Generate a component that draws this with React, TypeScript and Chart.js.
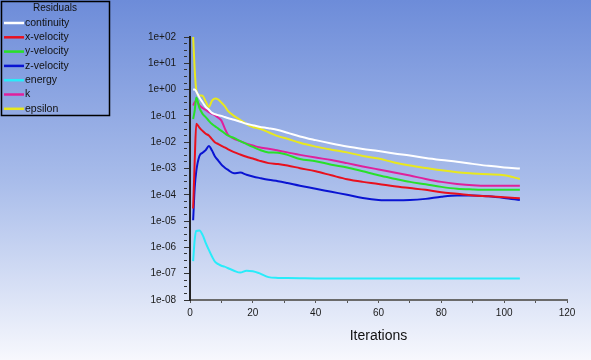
import React, { useEffect, useRef } from "react";
import { Chart, registerables } from "chart.js";

Chart.register(...registerables);

// ---------- data ----------
const iterations = [1, 1.5, 2, 3, 4, 5, 6, 7, 8, 9, 10, 11, 12, 14, 16, 18, 20, 22, 25, 28, 31, 35, 40, 45, 50, 55, 60, 65, 70, 75, 80, 85, 90, 95, 100, 105];

const continuity = [1.0, 1.0, 0.85, 0.5, 0.33, 0.22, 0.17, 0.13, 0.115, 0.107, 0.1, 0.091, 0.083, 0.071, 0.06, 0.05, 0.044, 0.039, 0.034, 0.029, 0.023, 0.0166, 0.012, 0.0089, 0.0068, 0.0055, 0.0046, 0.0037, 0.0031, 0.0025, 0.0021, 0.0018, 0.0015, 0.00126, 0.0011, 0.001];
const xVelocity = [3e-5, 2e-3, 0.05, 0.036, 0.027, 0.021, 0.018, 0.013, 0.0098, 0.0085, 0.0073, 0.0064, 0.0055, 0.0042, 0.0034, 0.0028, 0.0024, 0.002, 0.0016, 0.00148, 0.0013, 0.00103, 0.00078, 0.00055, 0.00039, 0.00031, 0.00026, 0.00021, 0.00018, 0.000155, 0.000125, 0.00011, 0.000095, 0.000088, 0.00008, 0.000074];
const yVelocity = [0.076, 0.16, 0.5, 0.2, 0.12, 0.09, 0.065, 0.049, 0.04, 0.033, 0.027, 0.022, 0.018, 0.0145, 0.011, 0.0085, 0.0066, 0.0052, 0.0041, 0.004, 0.0033, 0.0023, 0.0019, 0.0014, 0.0011, 0.00078, 0.00055, 0.00041, 0.00031, 0.00025, 0.0002, 0.00017, 0.00016, 0.000155, 0.000155, 0.000155];
const zVelocity = [1.07e-5, 1.9e-4, 8e-4, 3e-3, 4e-3, 5e-3, 7.2e-3, 4.8e-3, 2.8e-3, 2e-3, 1.4e-3, 1.1e-3, 9e-4, 6.6e-4, 7e-4, 5.8e-4, 5e-4, 4.4e-4, 3.7e-4, 3.3e-4, 2.8e-4, 2.2e-4, 1.7e-4, 1.3e-4, 1.0e-4, 7.6e-5, 6.4e-5, 6.2e-5, 6.3e-5, 7.0e-5, 8.5e-5, 9.5e-5, 9.5e-5, 8.8e-5, 7.6e-5, 6.3e-5];
const energy = [3e-7, 2e-6, 4.2e-6, 4.4e-6, 3.0e-6, 1.5e-6, 8e-7, 4.5e-7, 2.8e-7, 2.3e-7, 2e-7, 1.85e-7, 1.65e-7, 1.3e-7, 1.1e-7, 1.3e-7, 1.25e-7, 1.05e-7, 7.4e-8, 6.9e-8, 6.8e-8, 6.7e-8, 6.6e-8, 6.6e-8, 6.5e-8, 6.5e-8, 6.5e-8, 6.5e-8, 6.5e-8, 6.5e-8, 6.5e-8, 6.5e-8, 6.5e-8, 6.5e-8, 6.5e-8, 6.5e-8];
const kResidual = [0.25, 0.33, 0.38, 0.25, 0.2, 0.17, 0.14, 0.12, 0.105, 0.085, 0.066, 0.035, 0.02, 0.0135, 0.011, 0.0088, 0.0075, 0.0064, 0.0056, 0.0048, 0.0041, 0.0033, 0.0026, 0.0021, 0.0016, 0.0012, 0.00092, 0.00071, 0.00054, 0.0004, 0.00031, 0.00026, 0.00023, 0.00022, 0.00022, 0.00022];
const epsilon = [100, 5.5, 0.95, 0.6, 0.58, 0.35, 0.22, 0.38, 0.46, 0.42, 0.32, 0.24, 0.16, 0.1, 0.07, 0.049, 0.038, 0.033, 0.024, 0.017, 0.0135, 0.0095, 0.0068, 0.0052, 0.0041, 0.003, 0.0024, 0.0017, 0.0013, 0.00105, 0.00085, 0.00072, 0.00065, 0.0006, 0.00055, 0.0004];

const seriesNames = ["continuity", "x-velocity", "y-velocity", "z-velocity", "energy", "k", "epsilon"];
const seriesValues = [continuity, xVelocity, yVelocity, zVelocity, energy, kResidual, epsilon];
const seriesColors = ["#ffffff", "#e8101e", "#28e028", "#0a14d2", "#28ecfa", "#e0209c", "#e8e81e"];

const legendTitle = "Residuals";
const xTitle = "Iterations";
const xMajorTicks = [0, 20, 40, 60, 80, 100, 120];
const xMajorLabels = ["0", "20", "40", "60", "80", "100", "120"];
const xMinorTicks = [10, 30, 50, 70, 90, 110];
const yMajorTicks = [1e2, 1e1, 1e0, 1e-1, 1e-2, 1e-3, 1e-4, 1e-5, 1e-6, 1e-7, 1e-8];
const yMajorLabels = ["1e+02", "1e+01", "1e+00", "1e-01", "1e-02", "1e-03", "1e-04", "1e-05", "1e-06", "1e-07", "1e-08"];
const yMinorFractions = [0.25, 0.5, 0.75];

const FONT = "'Liberation Sans', Arial, Helvetica, sans-serif";

function isYMajor(v: number) {
  const l = Math.log10(v);
  return Math.abs(l - Math.round(l)) < 1e-6;
}

export default function App() {
  const ref = useRef<HTMLCanvasElement>(null);

  useEffect(() => {
    document.body.style.margin = "0";
    const canvas = ref.current!;

    const bgPlugin = {
      id: "bgGradient",
      beforeDraw(chart: any) {
        const c = chart.ctx;
        const g = c.createLinearGradient(0, 0, 0, chart.height);
        g.addColorStop(0, "#6d8cd9");
        g.addColorStop(0.5, "#a8bcea");
        g.addColorStop(1, "#f7f8fd");
        c.save();
        c.fillStyle = g;
        c.fillRect(0, 0, chart.width, chart.height);
        c.restore();
      },
    };

    const legendPlugin = {
      id: "boxLegend",
      afterDraw(chart: any) {
        const c = chart.ctx;
        c.save();
        c.strokeStyle = "#000";
        c.lineWidth = 1.5;
        c.strokeRect(1.5, 1.5, 108, 114);
        c.fillStyle = "#111";
        c.font = `10px ${FONT}`;
        c.textAlign = "center";
        c.textBaseline = "middle";
        c.fillText(legendTitle, 55, 8.5);
        c.textAlign = "left";
        c.font = `10.5px ${FONT}`;
        chart.data.datasets.forEach((ds: any, i: number) => {
          const y = 23 + i * 14.3;
          c.strokeStyle = ds.borderColor;
          c.lineWidth = 2.5;
          c.beginPath();
          c.moveTo(4, y);
          c.lineTo(24, y);
          c.stroke();
          c.fillStyle = "#111";
          c.fillText(ds.label, 25, y);
        });
        c.restore();
      },
    };

    const chart = new Chart(canvas, {
      type: "line",
      data: {
        datasets: seriesNames.map((name, i) => ({
          label: name,
          data: iterations.map((x, j) => ({ x, y: seriesValues[i][j] })),
          borderColor: seriesColors[i],
          backgroundColor: seriesColors[i],
          borderWidth: 2,
          pointRadius: 0,
          cubicInterpolationMode: "monotone" as const,
          fill: false,
        })),
      },
      options: {
        animation: false,
        responsive: false,
        layout: { padding: { left: 0, top: 37, right: 24, bottom: 0 } },
        plugins: { legend: { display: false }, tooltip: { enabled: false } },
        scales: {
          x: {
            type: "linear",
            min: 0,
            max: 120,
            afterFit: (s: any) => {
              s.height = 60;
            },
            afterBuildTicks: (s: any) => {
              s.ticks = [...xMajorTicks, ...xMinorTicks].sort((a, b) => a - b).map((v) => ({ value: v }));
            },
            ticks: {
              autoSkip: false,
              maxRotation: 0,
              padding: 4,
              color: "#1a1a1a",
              font: { family: FONT, size: 10 },
              callback: (v: any) => {
                const idx = xMajorTicks.indexOf(Number(v));
                return idx >= 0 ? xMajorLabels[idx] : "";
              },
            },
            grid: { drawOnChartArea: false, drawTicks: true, tickLength: 3, tickColor: "#555", tickWidth: 1 },
            border: { display: true, color: "#6a6a6a", width: 2 },
            title: {
              display: true,
              text: xTitle,
              color: "#111",
              font: { family: FONT, size: 14 },
              padding: { top: 0, bottom: 15 },
            },
          },
          y: {
            type: "logarithmic",
            min: 1e-8,
            max: 1e2,
            afterFit: (s: any) => {
              s.width = 190;
            },
            afterBuildTicks: (s: any) => {
              const vals: number[] = [...yMajorTicks];
              for (let n = -8; n < 2; n++) {
                yMinorFractions.forEach((f) => vals.push(Math.pow(10, n + f)));
              }
              s.ticks = vals.sort((a, b) => a - b).map((v) => ({ value: v }));
            },
            ticks: {
              autoSkip: false,
              padding: 8,
              color: "#1a1a1a",
              font: { family: FONT, size: 10 },
              callback: (v: any) => {
                const val = Number(v);
                for (let i = 0; i < yMajorTicks.length; i++) {
                  if (Math.abs(Math.log10(val) - Math.log10(yMajorTicks[i])) < 1e-6) return yMajorLabels[i];
                }
                return "";
              },
            },
            grid: {
              drawOnChartArea: false,
              drawTicks: true,
              tickLength: 6,
              tickColor: "#333",
              tickWidth: 1,
              tickBorderDash: (ctx: any) => (ctx.tick && isYMajor(ctx.tick.value) ? [] : [3, 20]),
            },
            border: { display: true, color: "#222", width: 2 },
          },
        },
      },
      plugins: [bgPlugin, legendPlugin],
    } as any);

    return () => chart.destroy();
  }, []);

  return (
    <div style={{ position: "absolute", left: 0, top: 0, width: 591, height: 360 }}>
      <canvas ref={ref} width={591} height={360} style={{ display: "block", width: 591, height: 360 }} />
    </div>
  );
}
